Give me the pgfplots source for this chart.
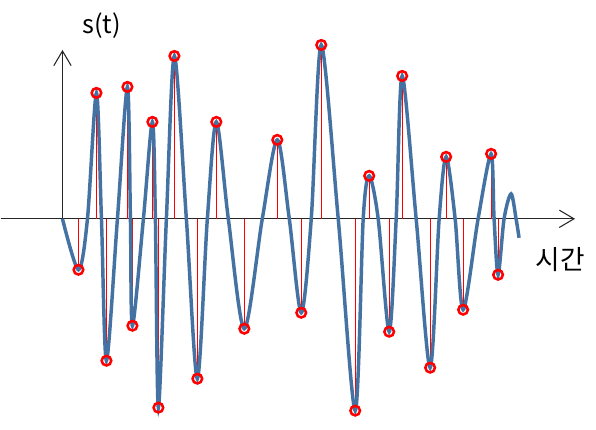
\documentclass[border=0pt]{standalone}
\usepackage{pgfplots}
\pgfplotsset{compat=1.18}
\usetikzlibrary{arrows.meta}
\usepackage{fontspec}
\setmainfont{Noto Sans CJK KR}
\definecolor{sigblue}{RGB}{68,114,162}
\begin{document}
\begin{tikzpicture}
\begin{axis}[
  scale only axis, width=447pt, height=322.5pt,
  xmin=0, xmax=596, ymin=-211, ymax=219,
  hide axis, clip=false
]
% frame for bounding box
\addplot[draw=none] coordinates {(0,-211) (596,219)};
% axes
\addplot[black!85, line width=0.8pt, -{Straight Barb[length=11pt,width=13pt]}]
  coordinates {(0,0) (575,0)};
\addplot[black!85, line width=0.8pt, -{Straight Barb[length=11pt,width=13pt]}]
  coordinates {(62,0) (62,169)};
% stems
\addplot[ycomb, red, line width=0.6pt] coordinates {
  (78,-51) (96,126) (106,-142) (127,132) (132,-107) (152,97) (158,-189)
  (174,163) (197,-160) (216,97) (244,-110) (277,79) (301,-94) (321,174)
  (355,-192) (369,43) (389,-113) (402,143) (430,-149) (446,62) (463,-91)
  (491,65) (498,-56)
};
% signal
\addplot[sigblue, line width=2.6pt, smooth] coordinates {
  (62,0) (78,-51) (87,0) (96,126) (101,0) (106,-142) (117,0) (127,132)
  (130,0) (132,-107) (143,0) (152,97) (155,0) (158,-189) (166,0) (174,163)
  (186,0) (197,-160) (207,0) (216,97) (228,0) (244,-110) (262,0) (277,79)
  (289,0) (301,-94) (311,0) (321,174) (338,0) (355,-192) (363,0) (369,43)
  (378,0) (389,-113) (396,0) (402,143) (416,0) (430,-149) (439,0) (446,62)
  (455,0) (463,-91) (478,0) (491,65) (494,0) (498,-56) (504,0) (511,25)
  (516,0) (519,-19)
};
% samples
\addplot[only marks, mark=o, red, mark size=3.6pt, mark options={line width=1.9pt}] coordinates {
  (78,-51) (96,126) (106,-142) (127,132) (132,-107) (152,97) (158,-189)
  (174,163) (197,-160) (216,97) (244,-110) (277,79) (301,-94) (321,174)
  (355,-192) (369,43) (389,-113) (402,143) (430,-149) (446,62) (463,-91)
  (491,65) (498,-56)
};
\node[font=\fontsize{19}{22}\selectfont] at (axis cs:101,193) {s(t)};
\node[font=\fontsize{20}{24}\selectfont] at (axis cs:560,-41) {시간};
\end{axis}
\end{tikzpicture}
\end{document}
